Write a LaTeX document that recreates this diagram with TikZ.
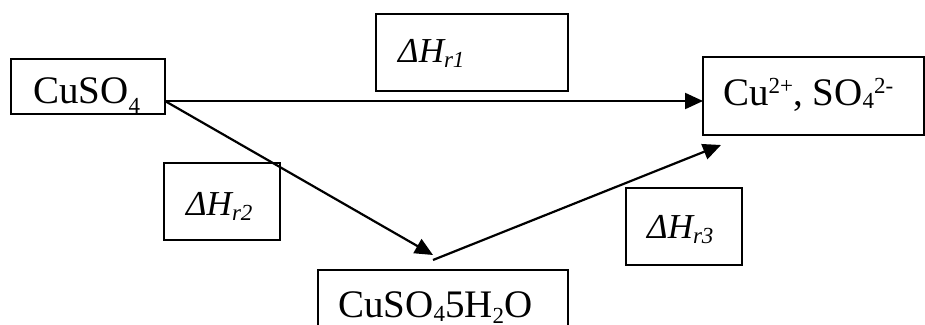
\documentclass[tikz,border=0pt]{standalone}
\usepackage{fontspec}
\setmainfont{Liberation Serif}
\usetikzlibrary{arrows.meta}
% lowered and raised small figures for chemical formulas
\newcommand{\lowfig}[2][5pt]{\raisebox{-#1}{\fontsize{23}{23}\selectfont #2}}
\newcommand{\highfig}[1]{\raisebox{12pt}{\fontsize{23}{23}\selectfont #1}}

\begin{document}
\begin{tikzpicture}[x=1pt,y=-1pt,
  box/.style={draw, line width=2.2pt, inner sep=0pt},
  chem/.style={anchor=base west, inner sep=0pt, font=\fontsize{39}{39}\selectfont},
  heat/.style={anchor=base west, inner sep=0pt, font=\fontsize{35}{35}\selectfont\itshape},
  flow/.style={line width=2.2pt, -{Triangle[length=18pt,width=16pt]}}]
\useasboundingbox (0,0) rectangle (925,324);
\clip (0,0) rectangle (925,324);

% boxes
\node[box, minimum width=154pt, minimum height=55pt] (cuso4) at (88,86.5) {};
\node[box, minimum width=192pt, minimum height=77pt] (dh1) at (472,52.5) {};
\node[box, minimum width=221pt, minimum height=78pt] (ions) at (813.5,96) {};
\node[box, minimum width=116pt, minimum height=77pt] (dh2) at (222,201.5) {};
\node[box, minimum width=116pt, minimum height=77pt] (dh3) at (684,226.5) {};
\node[box, minimum width=250pt, minimum height=80pt] (hyd) at (443,310) {};

% texts
\node[chem] (tcuso4) at (33,103) {CuSO\lowfig[10pt]{4}};
\node[chem] (tions) at (723,105) {Cu\highfig{2+}, SO\lowfig[3pt]{4}\highfig{2-}};
\node[chem] (thyd) at (338,317) {CuSO\lowfig[4pt]{4}5H\lowfig[6pt]{2}O};
\node[heat] (tdh1) at (398,62) {ΔH\lowfig{r1}};
\node[heat] (tdh2) at (186,215) {ΔH\lowfig{r2}};
\node[heat] (tdh3) at (647,238) {ΔH\lowfig{r3}};

% connector end points
\coordinate (p0) at (165,101);
\coordinate (p1) at (703,101);
\coordinate (p2) at (433,255);
\coordinate (p3) at (433,260);
\coordinate (p4) at (721,145);

% arrows
\draw[flow] (p0) -- (p1);
\draw[flow] (p0) -- (p2);
\draw[flow] (p3) -- (p4);
\end{tikzpicture}
\end{document}
